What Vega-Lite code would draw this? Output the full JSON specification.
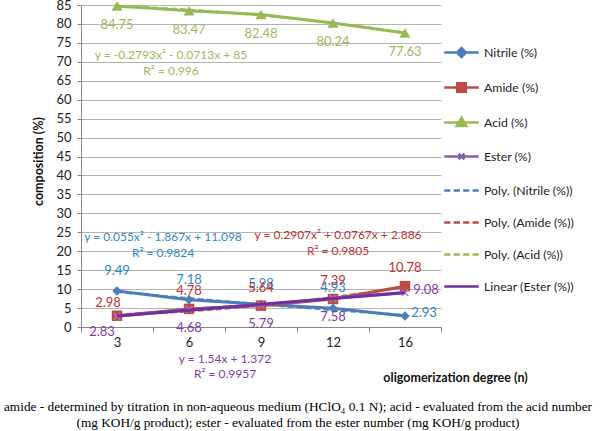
{
  "$schema": "https://vega.github.io/schema/vega-lite/v6.json",
  "width": 360,
  "height": 322,
  "autosize": {"type": "none"},
  "padding": {"left": 81, "top": 5, "right": 159, "bottom": 104},
  "background": "white",
  "config": {"view": {"stroke": null}, "font": "Lato"},
  "title": {
    "text": ["amide - determined by titration in non-aqueous medium (HClO₄ 0.1 N);   acid - evaluated from the acid number", "(mg KOH/g product); ester - evaluated from the ester number (mg KOH/g product)"],
    "orient": "bottom", "anchor": "middle", "frame": "group", "dx": 37, "offset": 16,
    "font": "Liberation Serif", "fontSize": 13.3, "fontWeight": "normal", "color": "#000", "lineHeight": 16
  },
  "datasets": {
    "pts": [
      {"n": 3, "series": "Nitrile (%)", "value": 9.49},
      {"n": 6, "series": "Nitrile (%)", "value": 7.18},
      {"n": 9, "series": "Nitrile (%)", "value": 5.98},
      {"n": 12, "series": "Nitrile (%)", "value": 4.93},
      {"n": 16, "series": "Nitrile (%)", "value": 2.93},
      {"n": 3, "series": "Amide (%)", "value": 2.98},
      {"n": 6, "series": "Amide (%)", "value": 4.78},
      {"n": 9, "series": "Amide (%)", "value": 5.64},
      {"n": 12, "series": "Amide (%)", "value": 7.39},
      {"n": 16, "series": "Amide (%)", "value": 10.78},
      {"n": 3, "series": "Acid (%)", "value": 84.75},
      {"n": 6, "series": "Acid (%)", "value": 83.47},
      {"n": 9, "series": "Acid (%)", "value": 82.48},
      {"n": 12, "series": "Acid (%)", "value": 80.24},
      {"n": 16, "series": "Acid (%)", "value": 77.63},
      {"n": 3, "series": "Ester (%)", "value": 2.83},
      {"n": 6, "series": "Ester (%)", "value": 4.68},
      {"n": 9, "series": "Ester (%)", "value": 5.79},
      {"n": 12, "series": "Ester (%)", "value": 7.58},
      {"n": 16, "series": "Ester (%)", "value": 9.08}
    ],
    "trend": [
      {"n": 3, "series": "Poly. (Nitrile (%))", "value": 9.286},
      {"n": 6, "series": "Poly. (Nitrile (%))", "value": 7.584},
      {"n": 9, "series": "Poly. (Nitrile (%))", "value": 5.992},
      {"n": 12, "series": "Poly. (Nitrile (%))", "value": 4.51},
      {"n": 16, "series": "Poly. (Nitrile (%))", "value": 3.138},
      {"n": 3, "series": "Poly. (Amide (%))", "value": 3.253},
      {"n": 6, "series": "Poly. (Amide (%))", "value": 4.202},
      {"n": 9, "series": "Poly. (Amide (%))", "value": 5.732},
      {"n": 12, "series": "Poly. (Amide (%))", "value": 7.844},
      {"n": 16, "series": "Poly. (Amide (%))", "value": 10.537},
      {"n": 3, "series": "Poly. (Acid (%))", "value": 84.649},
      {"n": 6, "series": "Poly. (Acid (%))", "value": 83.74},
      {"n": 9, "series": "Poly. (Acid (%))", "value": 82.272},
      {"n": 12, "series": "Poly. (Acid (%))", "value": 80.246},
      {"n": 16, "series": "Poly. (Acid (%))", "value": 77.661},
      {"n": 3, "series": "Linear (Ester (%))", "value": 2.912},
      {"n": 6, "series": "Linear (Ester (%))", "value": 4.452},
      {"n": 9, "series": "Linear (Ester (%))", "value": 5.992},
      {"n": 12, "series": "Linear (Ester (%))", "value": 7.532},
      {"n": 16, "series": "Linear (Ester (%))", "value": 9.072}
    ],
    "eqs": [
      {"grp": "Acid", "n": 3, "value": 71.8, "text": "y = -0.2793x² - 0.0713x + 85"},
      {"grp": "Acid", "n": 3, "value": 67.6, "text": "R² = 0.996"},
      {"grp": "Nitrile", "n": 3, "value": 23.8, "text": "y = 0.055x² - 1.867x + 11.098"},
      {"grp": "Nitrile", "n": 3, "value": 19.6, "text": "R² = 0.9824"},
      {"grp": "Amide", "n": 12, "value": 24.3, "text": "y = 0.2907x² + 0.0767x + 2.886"},
      {"grp": "Amide", "n": 12, "value": 20.1, "text": "R² = 0.9805"},
      {"grp": "Ester", "n": 6, "value": -8.4, "text": "y = 1.54x + 1.372"},
      {"grp": "Ester", "n": 6, "value": -12.5, "text": "R² = 0.9957"}
    ]
  },
  "encoding": {
    "x": {
      "field": "n", "type": "ordinal", "title": "oligomerization degree (n)",
      "scale": {"type": "band", "domain": [3, 6, 9, 12, 16], "paddingInner": 0, "paddingOuter": 0},
      "axis": {
        "labelAngle": 0, "tickBand": "extent", "tickSize": 5, "tickColor": "#888", "domainColor": "#888",
        "grid": false, "labelFont": "Lato", "labelFontSize": 13, "labelColor": "#222", "labelPadding": 4,
        "titleX": 374, "titleY": 50, "titleAlign": "center", "titleBaseline": "middle",
        "titleFont": "Lato", "titleFontWeight": "bold", "titleFontSize": 12.5, "titleColor": "#111"
      }
    },
    "y": {
      "field": "value", "type": "quantitative", "title": "composition (%)",
      "scale": {"domain": [0, 85], "nice": false, "zero": false},
      "axis": {
        "values": [0, 5, 10, 15, 20, 25, 30, 35, 40, 45, 50, 55, 60, 65, 70, 75, 80, 85],
        "grid": true, "gridColor": "#b4b4b4", "domainColor": "#888", "tickColor": "#888", "tickSize": 4,
        "labelFont": "Lato", "labelFontSize": 13, "labelColor": "#222", "labelPadding": 6,
        "titleFont": "Lato", "titleFontSize": 12.5, "titleFontWeight": "bold", "titleColor": "#111",
        "titleX": -43, "titleY": 156, "titleAngle": 270, "titleAlign": "center", "titleBaseline": "middle"
      }
    }
  },
  "layer": [
    {
      "data": {"name": "trend"},
      "transform": [{"filter": "datum.series != 'Linear (Ester (%))'"}],
      "mark": {"type": "line", "strokeDash": [6, 3], "strokeWidth": 2.5, "interpolate": "monotone", "opacity": 0.85},
      "encoding": {
        "color": {"field": "series", "type": "nominal",
          "scale": {"domain": ["Nitrile (%)", "Amide (%)", "Acid (%)", "Ester (%)", "Poly. (Nitrile (%))", "Poly. (Amide (%))", "Poly. (Acid (%))", "Linear (Ester (%))"],
                    "range": ["#4a7ebb", "#be4b48", "#98b954", "#8064a2", "#4a7ebb", "#be4b48", "#98b954", "#7030a0"]}}
      }
    },
    {
      "data": {"name": "pts"},
      "mark": {"type": "line", "strokeWidth": 3},
      "encoding": {"color": {"field": "series", "type": "nominal"}}
    },
    {
      "data": {"name": "pts"},
      "transform": [{"filter": "datum.series == 'Nitrile (%)'"}],
      "mark": {"type": "point", "shape": "diamond", "size": 90, "filled": true, "color": "#4a7ebb", "opacity": 1}
    },
    {
      "data": {"name": "pts"},
      "transform": [{"filter": "datum.series == 'Amide (%)'"}],
      "mark": {"type": "point", "shape": "square", "size": 110, "filled": true, "color": "#be4b48", "opacity": 1}
    },
    {
      "data": {"name": "pts"},
      "transform": [{"filter": "datum.series == 'Acid (%)'"}],
      "mark": {"type": "point", "shape": "triangle-up", "size": 120, "filled": true, "color": "#98b954", "opacity": 1}
    },
    {
      "data": {"name": "pts"},
      "transform": [{"filter": "datum.series == 'Ester (%)'"}],
      "mark": {"type": "point", "shape": "M-1,-1L1,1M-1,1L1,-1", "size": 45, "filled": false, "color": "#9d7fc4", "strokeWidth": 1.5, "opacity": 1}
    },
    {
      "data": {"name": "trend"},
      "transform": [{"filter": "datum.series == 'Linear (Ester (%))'"}],
      "mark": {"type": "line", "strokeWidth": 3},
      "encoding": {"color": {"field": "series", "type": "nominal"}}
    },
    {
      "data": {"name": "pts"},
      "mark": {"type": "point", "opacity": 0, "filled": true},
      "encoding": {
        "color": {
          "field": "series", "type": "nominal",
          "legend": {
            "orient": "none", "legendX": 362, "legendY": 29, "title": null,
            "symbolSize": 1190, "symbolStrokeWidth": 2.5, "symbolOpacity": 1,
            "labelFont": "Lato", "labelFontSize": 12.3, "labelColor": "#222", "labelOffset": 4,
            "rowPadding": 7, "padding": 0,
            "encode": {"symbols": {"update": {
              "fill": {"scale": "color", "field": "value"},
              "stroke": {"scale": "color", "field": "value"},
              "strokeWidth": {"value": 2.5},
              "opacity": {"value": 1},
              "fillOpacity": {"value": 1}
            }}}
          }
        },
        "shape": {
          "field": "series", "type": "nominal",
          "scale": {
            "domain": ["Nitrile (%)", "Amide (%)", "Acid (%)", "Ester (%)", "Poly. (Nitrile (%))", "Poly. (Amide (%))", "Poly. (Acid (%))", "Linear (Ester (%))"],
            "range": [
              "M-1,0H1M0,-0.26L0.26,0L0,0.26L-0.26,0Z",
              "M-1,0H1M-0.25,-0.25H0.25V0.25H-0.25Z",
              "M-1,0H1M0,-0.28L0.28,0.2H-0.28Z",
              "M-1,0H1M-0.17,-0.17L0.17,0.17M-0.17,0.17L0.17,-0.17",
              "M-1,0H-0.64M-0.453,0H-0.093M0.093,0H0.453M0.64,0H1",
              "M-1,0H-0.64M-0.453,0H-0.093M0.093,0H0.453M0.64,0H1",
              "M-1,0H-0.64M-0.453,0H-0.093M0.093,0H0.453M0.64,0H1",
              "M-1,0H1"
            ]
          },
          "legend": {
            "orient": "none", "legendX": 362, "legendY": 29, "title": null,
            "symbolSize": 1190, "symbolStrokeWidth": 2.5, "symbolOpacity": 1,
            "labelFont": "Lato", "labelFontSize": 12.3, "labelColor": "#222", "labelOffset": 4,
            "rowPadding": 7, "padding": 0,
            "encode": {"symbols": {"update": {
              "fill": {"scale": "color", "field": "value"},
              "stroke": {"scale": "color", "field": "value"},
              "strokeWidth": {"value": 2.5},
              "opacity": {"value": 1},
              "fillOpacity": {"value": 1}
            }}}
          }
        }
      }
    },
    {
      "data": {"name": "pts"},
      "transform": [{"filter": "datum.series == 'Nitrile (%)' && datum.n != 16"}],
      "mark": {"type": "text", "dy": -20, "color": "#2f86c9", "fontSize": 13, "font": "Lato"},
      "encoding": {"text": {"field": "value", "type": "quantitative", "format": ".2f"}}
    },
    {
      "data": {"name": "pts"},
      "transform": [{"filter": "datum.series == 'Nitrile (%)' && datum.n == 16"}],
      "mark": {"type": "text", "dx": 19, "dy": -3, "color": "#2f86c9", "fontSize": 13, "font": "Lato"},
      "encoding": {"text": {"field": "value", "type": "quantitative", "format": ".2f"}}
    },
    {
      "data": {"name": "pts"},
      "transform": [{"filter": "datum.series == 'Amide (%)' && datum.n != 3"}],
      "mark": {"type": "text", "dy": -18, "color": "#c0312f", "fontSize": 13, "font": "Lato"},
      "encoding": {"text": {"field": "value", "type": "quantitative", "format": ".2f"}}
    },
    {
      "data": {"name": "pts"},
      "transform": [{"filter": "datum.series == 'Amide (%)' && datum.n == 3"}],
      "mark": {"type": "text", "dx": -9, "dy": -13, "color": "#c0312f", "fontSize": 13, "font": "Lato"},
      "encoding": {"text": {"field": "value", "type": "quantitative", "format": ".2f"}}
    },
    {
      "data": {"name": "pts"},
      "transform": [{"filter": "datum.series == 'Acid (%)'"}],
      "mark": {"type": "text", "dy": 19, "color": "#9bbb59", "fontSize": 13, "font": "Lato"},
      "encoding": {"text": {"field": "value", "type": "quantitative", "format": ".2f"}}
    },
    {
      "data": {"name": "pts"},
      "transform": [{"filter": "datum.series == 'Ester (%)' && datum.n != 3 && datum.n != 16"}],
      "mark": {"type": "text", "dy": 19, "color": "#7b3fa8", "fontSize": 13, "font": "Lato"},
      "encoding": {"text": {"field": "value", "type": "quantitative", "format": ".2f"}}
    },
    {
      "data": {"name": "pts"},
      "transform": [{"filter": "datum.series == 'Ester (%)' && datum.n == 3"}],
      "mark": {"type": "text", "dx": -15, "dy": 16, "color": "#7b3fa8", "fontSize": 13, "font": "Lato"},
      "encoding": {"text": {"field": "value", "type": "quantitative", "format": ".2f"}}
    },
    {
      "data": {"name": "pts"},
      "transform": [{"filter": "datum.series == 'Ester (%)' && datum.n == 16"}],
      "mark": {"type": "text", "dx": 21, "dy": -3, "color": "#7b3fa8", "fontSize": 13, "font": "Lato"},
      "encoding": {"text": {"field": "value", "type": "quantitative", "format": ".2f"}}
    },
    {
      "data": {"name": "eqs"},
      "transform": [{"filter": "datum.grp == 'Acid'"}],
      "mark": {"type": "text", "dx": 54, "color": "#9bbb59", "fontSize": 12, "font": "Lato"},
      "encoding": {"text": {"field": "text", "type": "nominal"}}
    },
    {
      "data": {"name": "eqs"},
      "transform": [{"filter": "datum.grp == 'Nitrile'"}],
      "mark": {"type": "text", "dx": 46, "color": "#2f86c9", "fontSize": 12, "font": "Lato"},
      "encoding": {"text": {"field": "text", "type": "nominal"}}
    },
    {
      "data": {"name": "eqs"},
      "transform": [{"filter": "datum.grp == 'Amide'"}],
      "mark": {"type": "text", "dx": 5, "color": "#c0312f", "fontSize": 12, "font": "Lato"},
      "encoding": {"text": {"field": "text", "type": "nominal"}}
    },
    {
      "data": {"name": "eqs"},
      "transform": [{"filter": "datum.grp == 'Ester'"}],
      "mark": {"type": "text", "dx": 36, "color": "#7b3fa8", "fontSize": 12, "font": "Lato"},
      "encoding": {"text": {"field": "text", "type": "nominal"}}
    }
  ]
}
